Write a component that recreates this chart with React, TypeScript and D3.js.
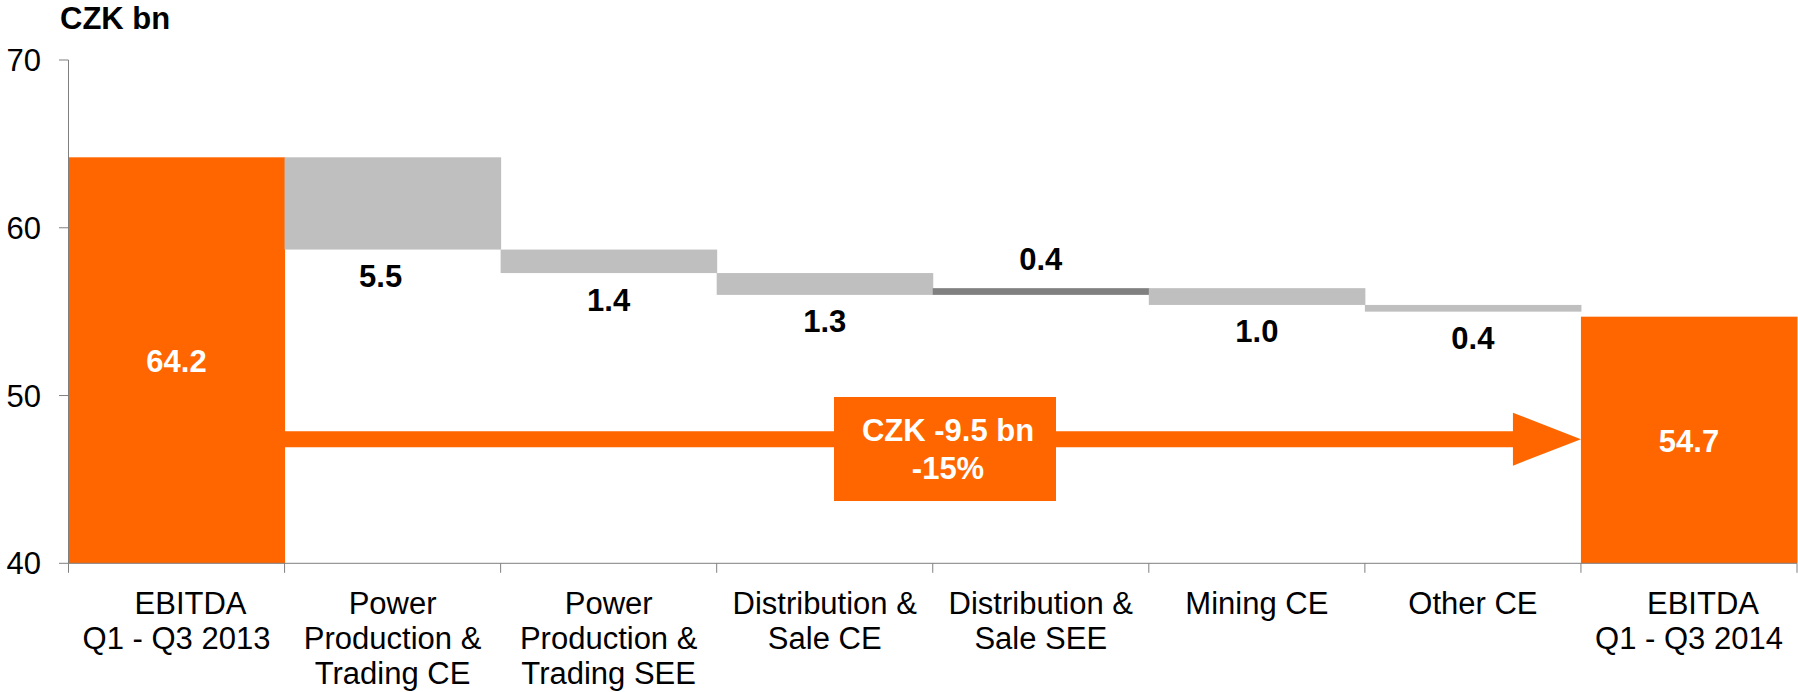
import React from "react";
import * as d3 from "d3";

const categories = [
  "EBITDA Q1 - Q3 2013",
  "Power Production & Trading CE",
  "Power Production & Trading SEE",
  "Distribution & Sale CE",
  "Distribution & Sale SEE",
  "Mining CE",
  "Other CE",
  "EBITDA Q1 - Q3 2014",
];
const categoryLines = [
  ["EBITDA", "Q1 - Q3 2013"],
  ["Power", "Production &", "Trading CE"],
  ["Power", "Production &", "Trading SEE"],
  ["Distribution &", "Sale CE"],
  ["Distribution &", "Sale SEE"],
  ["Mining CE"],
  ["Other CE"],
  ["EBITDA", "Q1 - Q3 2014"],
];
const startValue = 64.2;
const endValue = 54.7;
const deltas = [-5.5, -1.4, -1.3, 0.4, -1.0, -0.4];
const yTicks = [40, 50, 60, 70];
const unitLabel = "CZK bn";
const changeLines = ["CZK -9.5 bn", "-15%"];
const arrowLevel = 47.4;

const ORANGE = "#FF6600";
const LIGHT = "#BFBFBF";
const DARK = "#808080";
const AXIS = "#7F7F7F";
const FONT = "'Liberation Sans', Arial, sans-serif";

type Bar = { cat: string; y0: number; y1: number; kind: "total" | "neg" | "pos"; label: string };

export default function App() {
  const W = 1798;
  const H = 692;
  const x = d3.scaleBand<string>().domain(categories).range([68.5, 1797]).padding(0);
  const y = d3.scaleLinear().domain([40, 70]).range([563.3, 60]);

  const bars: Bar[] = [];
  bars.push({ cat: categories[0], y0: 40, y1: startValue, kind: "total", label: startValue.toFixed(1) });
  let run = startValue;
  deltas.forEach((d, i) => {
    const next = run + d;
    bars.push({
      cat: categories[i + 1],
      y0: Math.min(run, next),
      y1: Math.max(run, next),
      kind: d < 0 ? "neg" : "pos",
      label: Math.abs(d).toFixed(1),
    });
    run = next;
  });
  bars.push({ cat: categories[7], y0: 40, y1: endValue, kind: "total", label: endValue.toFixed(1) });

  const bw = x.bandwidth();
  const axisY = y(40);
  const ay = y(arrowLevel);
  const shaftStart = (x(categories[0]) as number) + bw;
  const tipX = x(categories[7]) as number;
  const headBack = tipX - 68;
  const shaftHalf = 8;
  const headHalf = 26.5;

  return (
    <svg
      width={W}
      height={H}
      style={{ position: "absolute", left: 0, top: 0, background: "#fff" }}
      fontFamily={FONT}
    >
      <text x={60} y={29} fontSize={31} fontWeight="bold" fill="#000">
        {unitLabel}
      </text>

      {bars.map((b, i) => {
        const bx = x(b.cat) as number;
        const top = y(b.y1);
        const bot = y(b.y0);
        const fill = b.kind === "total" ? ORANGE : b.kind === "neg" ? LIGHT : DARK;
        const lx = bx + bw / 2 + (i === 1 ? -12 : 0);
        let ly: number;
        let color = "#000";
        if (b.kind === "total") {
          ly = (top + bot) / 2 + 12;
          color = "#fff";
        } else if (b.kind === "neg") {
          ly = bot + 37.5;
        } else {
          ly = top - 18.5;
        }
        return (
          <g key={i}>
            <rect x={bx} y={top} width={bw + 0.5} height={bot - top} fill={fill} />
            <text x={lx} y={ly} textAnchor="middle" fontSize={31} fontWeight="bold" fill={color}>
              {b.label}
            </text>
          </g>
        );
      })}

      {/* arrow */}
      <path
        d={`M${shaftStart},${ay - shaftHalf} L${headBack},${ay - shaftHalf} L${headBack},${ay - headHalf} L${tipX},${ay} L${headBack},${ay + headHalf} L${headBack},${ay + shaftHalf} L${shaftStart},${ay + shaftHalf} Z`}
        fill={ORANGE}
      />
      <rect x={834} y={397} width={222} height={104} fill={ORANGE} />
      {changeLines.map((t, i) => (
        <text
          key={i}
          x={948}
          y={441 + i * 37.5}
          textAnchor="middle"
          fontSize={31}
          fontWeight="bold"
          fill="#fff"
        >
          {t}
        </text>
      ))}

      {/* y axis */}
      <line x1={68.5} x2={68.5} y1={y(70)} y2={axisY} stroke={AXIS} strokeWidth={1} />
      {yTicks.map((t) => (
        <g key={t}>
          <line x1={59} x2={68.5} y1={y(t)} y2={y(t)} stroke={AXIS} strokeWidth={1} />
          <text x={41} y={y(t) + 11} textAnchor="end" fontSize={31} fill="#000">
            {t}
          </text>
        </g>
      ))}

      {/* x axis */}
      <line x1={68.5} x2={1797} y1={axisY} y2={axisY} stroke={AXIS} strokeWidth={1} />
      {[...categories.map((c) => x(c) as number), 1797].map((bx, i) => (
        <line key={i} x1={bx} x2={bx} y1={axisY} y2={axisY + 9.5} stroke={AXIS} strokeWidth={1} />
      ))}
      {categories.map((c, i) => (
        <text key={c} textAnchor="middle" fontSize={31} fill="#000">
          {categoryLines[i].map((line, j) => (
            <tspan
              key={j}
              x={(x(c) as number) + bw / 2 + (line === "EBITDA" ? 14 : 0)}
              y={614 + j * 35}
            >
              {line}
            </tspan>
          ))}
        </text>
      ))}
    </svg>
  );
}
